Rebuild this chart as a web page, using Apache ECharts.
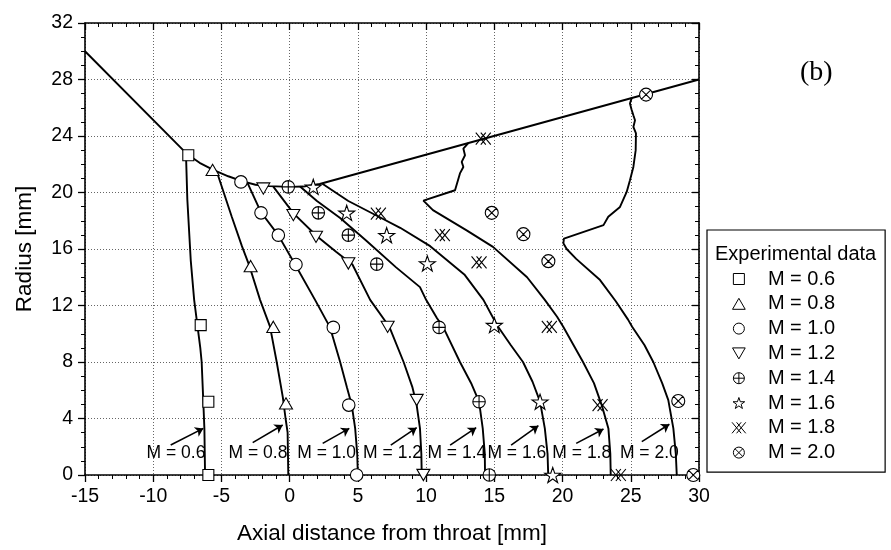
<!DOCTYPE html>
<html><head><meta charset="utf-8">
<script src="https://cdn.jsdelivr.net/npm/echarts@6/dist/echarts.min.js"></script>
<style>html,body{margin:0;padding:0;background:#fff}#c{width:891px;height:550px}</style>
</head><body><div id="c"></div>
<script>
// ---------------- data ----------------
const machNames = ['M = 0.6','M = 0.8','M = 1.0','M = 1.2','M = 1.4','M = 1.6','M = 1.8','M = 2.0'];

const wall = [[-15,30],[-7.55,22.75],[-6.6,22.1],[-5.6,21.6],[-4.5,21.15],[-3.5,20.8],[-2.5,20.55],[-1.5,20.45],[0,20.4],[1.0,20.42],[2.2,20.6],[30,28]];

const simM06 = [[-7.6,22.75],[-7.5,19.5],[-7.25,15.2],[-7.0,12.4],[-6.75,10.5],[-6.55,9],[-6.45,8],[-6.33,5.2],[-6.25,3.3],[-6.2,0]];
const simM08 = [[-5.35,21.5],[-4.25,18.3],[-3.5,16.2],[-2.95,14.8],[-2.17,12.4],[-1.44,10.5],[-0.95,8],[-0.5,5.5],[-0.3,4],[-0.15,3],[-0.1,0]];
const simM10 = [[-3.1,20.7],[-2.1,18.6],[-0.85,17.0],[0.4,14.9],[1.86,12.4],[2.96,10.45],[3.7,8],[4.2,6.2],[4.55,4.95],[4.8,3.3],[4.95,1.5],[5.0,0]];
const simM12 = [[-1.2,20.42],[0.3,18.5],[2.0,16.9],[3.4,15.8],[4.6,14.9],[5.9,12.4],[7.3,10.5],[8.35,8],[9.0,6.2],[9.3,5.0],[9.55,3.3],[9.65,1.5],[9.68,0]];
const simM14 = [[0.76,20.42],[2.0,19.4],[3.7,18.2],[5.6,16.6],[7.8,14.7],[9.55,13.3],[10.0,12.4],[10.8,11.1],[11.26,10.45],[12.48,8.0],[13.3,6.5],[13.88,5.19],[14.15,3.3],[14.3,1.5],[14.32,0]];
const simM16 = [[2.4,20.62],[4.3,19.4],[6.5,18.3],[8.1,17.5],[10.3,16.2],[12.8,14.2],[14.2,12.4],[15.2,10.6],[16.2,9.2],[17.1,8.0],[17.8,6.6],[18.35,5.2],[18.7,3.3],[18.9,1.5],[18.95,0]];
const simM18 = [[13.09,23.5],[12.73,23.11],[12.85,22.64],[12.61,22.17],[12.73,21.81],[12.48,21.35],[12.12,20.16],[9.8,19.42],[10.5,18.75],[13.0,17.3],[14.9,16.15],[17.4,14.0],[18.7,12.4],[19.6,11.2],[20.05,10.5],[21.5,8.0],[22.3,6.5],[22.87,4.95],[23.36,3.3],[23.5,1.5],[23.53,0]];
const simM20 = [[25.07,26.7],[24.94,26.3],[25.05,25.9],[25.19,25.47],[25.31,25.12],[25.19,24.64],[25.38,24.18],[25.36,23.0],[25.19,21.81],[24.94,20.87],[24.7,20.04],[24.21,18.98],[23.35,18.28],[23.0,17.69],[20.1,16.74],[20.06,16.4],[20.3,16.0],[21.0,15.3],[22.75,13.8],[23.9,12.3],[24.8,11.0],[25.1,10.5],[26.0,9.2],[26.65,8.0],[27.3,6.5],[27.75,5.3],[28.12,3.3],[28.3,1.5],[28.37,0]];

const expM06 = [[-7.43,22.64],[-6.52,10.61],[-5.96,5.19],[-5.96,0]];
const expM08 = [[-5.65,21.6],[-2.86,14.79],[-1.2,10.49],[-0.27,5.07]];
const expM10 = [[-3.57,20.75],[-2.1,18.56],[-0.83,16.98],[0.46,14.9],[3.2,10.45],[4.33,4.95],[4.91,0]];
const expM12 = [[-1.93,20.28],[0.27,18.4],[1.93,16.86],[4.3,14.98],[7.18,10.49],[9.31,5.31],[9.8,0]];
const expM14 = [[-0.1,20.4],[2.1,18.56],[4.3,16.98],[6.38,14.93],[10.95,10.45],[13.88,5.19],[14.63,0]];
const expM16 = [[1.73,20.4],[4.18,18.56],[7.11,16.98],[10.09,14.98],[15.0,10.61],[18.35,5.19],[19.28,0]];
const expM18 = [[14.19,23.82],[6.5,18.51],[11.19,16.98],[13.88,15.05],[19.03,10.49],[22.75,4.95],[24.09,0]];
const expM20 = [[26.12,26.93],[14.81,18.56],[17.13,17.05],[18.96,15.14],[28.48,5.24],[29.58,0]];

const labelPos = [[-8.33,1.53],[-2.32,1.53],[2.71,1.53],[7.54,1.53],[12.25,1.53],[16.65,1.53],[21.41,1.53],[26.36,1.53]];
const arrows = [
  [[-8.72,2.12],[-6.33,3.3]],
  [[-2.71,2.29],[-0.51,3.54]],
  [[2.42,2.24],[4.37,3.3]],
  [[7.41,2.12],[9.31,3.35]],
  [[11.76,2.12],[13.67,3.35]],
  [[16.23,2.12],[18.23,3.49]],
  [[21.0,2.24],[23.0,3.26]],
  [[25.81,2.36],[27.83,3.59]]
];

// ---------------- styling ----------------
const F = '"Liberation Sans", Arial, sans-serif';
const sims = [simM06,simM08,simM10,simM12,simM14,simM16,simM18,simM20];
const exps = [expM06,expM08,expM10,expM12,expM14,expM16,expM18,expM20];
const symbols = [
  'path://M0,0 L20,0 L20,20 L0,20 Z',
  'path://M10,0 L20,17.32 L0,17.32 Z',
  'circle',
  'path://M0,0 L20,0 L10,17.32 Z',
  'path://M0,10 A10,10 0 1 1 20,10 A10,10 0 1 1 0,10 Z M10,0 L10,20 M0,10 L20,10',
  'path://M50,0 L61.8,35.1 L98.1,35.1 L68.8,56.7 L79.4,90.9 L50,69.5 L20.6,90.9 L31.2,56.7 L1.9,35.1 L38.2,35.1 Z',
  'path://M0,0 L10,12 M0,12 L10,0 M5,0 L15,12 M5,12 L15,0',
  'path://M0,10 A10,10 0 1 1 20,10 A10,10 0 1 1 0,10 Z M2.93,2.93 L17.07,17.07 M2.93,17.07 L17.07,2.93'
];
const sizes = [11,13,12.5,13,12.5,16,15,13];

const series = [];
series.push({type:'line', data:wall, symbol:'none', silent:true, z:2,
  lineStyle:{color:'#000', width:1.9}});
sims.forEach((d)=>series.push({type:'line', data:d, symbol:'none', silent:true, z:2,
  lineStyle:{color:'#000', width:1.9}}));
exps.forEach((d,i)=>series.push({type:'scatter', name:machNames[i], data:d,
  symbol:symbols[i], symbolSize:sizes[i], symbolKeepAspect:true, z:3,
  itemStyle:{color:'#fff', borderColor:'#000', borderWidth:1.1, opacity:1}}));
series.push({type:'lines', coordinateSystem:'cartesian2d', silent:true, z:4,
  data:arrows.map(a=>({coords:a})), symbol:['none','arrow'], symbolSize:[0,8],
  lineStyle:{color:'#000', width:1.6, opacity:1}});
series.push({type:'scatter', name:'annot', silent:true, z:5, symbol:'circle', symbolSize:1,
  itemStyle:{color:'rgba(0,0,0,0)', opacity:1},
  data:labelPos.map((p,i)=>({name:machNames[i], value:p})),
  label:{show:true, position:'inside', formatter:'{b}', color:'#000', opacity:1, fontSize:17.5, fontFamily:F}});

const axisCommon = {
  axisLine:{onZero:false, lineStyle:{color:'#000', width:1.6}},
};

const option = {
  animation:false,
  backgroundColor:'#fff',
  title:[
    {text:'(b)', left:800, top:59, padding:0,
     textStyle:{fontFamily:'"Liberation Serif", "Times New Roman", serif', fontSize:28, fontWeight:'normal', color:'#000'}},
    {text:'Experimental data', left:715, top:244, padding:0,
     textStyle:{fontFamily:F, fontSize:20, fontWeight:'normal', color:'#000'}}
  ],
  grid:{left:85, right:192, top:23, bottom:75, containLabel:false, outerBoundsMode:'none'},
  legend:{
    orient:'vertical', left:707, top:230,
    data:machNames.map((n,i)=>({name:n, icon:symbols[i]})),
    itemWidth:48, itemHeight:11, itemGap:4.8,
    padding:[39,50,9.5,24.5], borderColor:'#000', borderWidth:1.2,
    textStyle:{fontFamily:F, fontSize:20, color:'#000', lineHeight:20},
    selectedMode:false,
    itemStyle:{color:'#fff', borderColor:'#000', borderWidth:1, opacity:1}
  },
  xAxis:[
    Object.assign({type:'value', min:-15, max:30, interval:5, position:'bottom',
      axisLabel:{fontFamily:F, fontSize:19.5, color:'#000', margin:12},
      splitLine:{show:true, lineStyle:{color:'#666', type:[1,2], width:1}},
      name:'Axial distance from throat [mm]', nameLocation:'middle', nameGap:47,
      nameTextStyle:{fontFamily:F, fontSize:22.5, color:'#000'}}, axisCommon,
      {axisTick:{show:true, inside:false, length:7, lineStyle:{color:'#000', width:1.3}},
       minorTick:{show:true, splitNumber:5, length:4, lineStyle:{color:'#000', width:1}}}),
    Object.assign({type:'value', min:-15, max:30, interval:5, position:'top',
      axisLabel:{show:false}, splitLine:{show:false}}, axisCommon,
      {axisTick:{show:true, inside:true, length:7, lineStyle:{color:'#000', width:1.3}},
       minorTick:{show:true, splitNumber:5, length:4, lineStyle:{color:'#000', width:1}}})
  ],
  yAxis:[
    Object.assign({type:'value', min:0, max:32, interval:4, position:'left',
      axisLabel:{fontFamily:F, fontSize:19.5, color:'#000', margin:12},
      splitLine:{show:true, lineStyle:{color:'#666', type:[1,2], width:1}},
      name:'Radius [mm]', nameLocation:'middle', nameGap:49,
      nameTextStyle:{fontFamily:F, fontSize:22.5, color:'#000'}}, axisCommon,
      {axisTick:{show:true, inside:false, length:7, lineStyle:{color:'#000', width:1.3}},
       minorTick:{show:true, splitNumber:4, length:4, lineStyle:{color:'#000', width:1}}}),
    Object.assign({type:'value', min:0, max:32, interval:4, position:'right',
      axisLabel:{show:false}, splitLine:{show:false}}, axisCommon,
      {axisTick:{show:true, inside:true, length:7, lineStyle:{color:'#000', width:1.3}},
       minorTick:{show:true, splitNumber:4, length:4, lineStyle:{color:'#000', width:1}}})
  ],
  series:series
};
const chart = echarts.init(document.getElementById('c'));
chart.setOption(option);
</script>
</body></html>
